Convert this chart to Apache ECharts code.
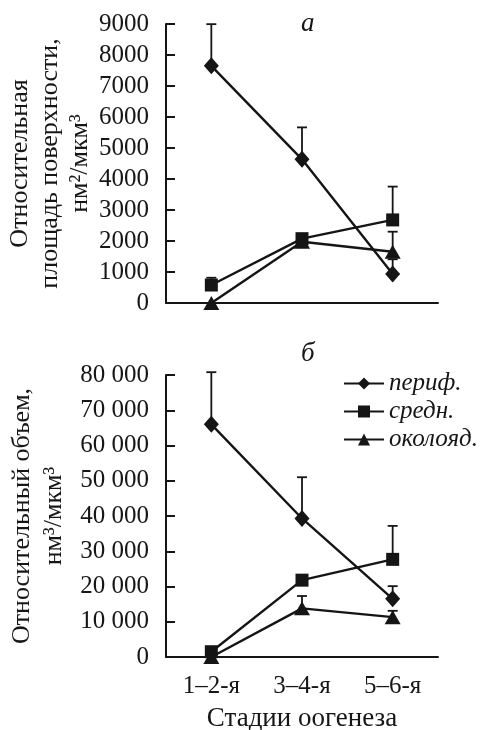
<!doctype html>
<html lang="ru">
<head>
<meta charset="UTF-8">
<title>Стадии оогенеза</title>
<script src="https://cdn.jsdelivr.net/npm/echarts@6/dist/echarts.min.js"></script>
<style>
  html, body { margin: 0; padding: 0; background: #fff; }
  #main { width: 486px; height: 730px; }
</style>
</head>
<body>
<div id="main"></div>
<script>
// стадии
var stages = ['1\u20132-я', '3\u20134-я', '5\u20136-я'];
var seriesNames = ['периф.', 'средн.', 'околояд.'];

// а: площадь поверхности, нм2/мкм3
var areaPerif = [7650, 4635, 935];
var areaSredn = [580, 2075, 2680];
var areaOkol = [0, 1975, 1655];
var areaPerifErr = [1345, 1030, 475];
var areaSrednErr = [235, 0, 1075];
var areaOkolErr = [0, 0, 645];
var areaTicks = [0, 9000, 1000];

// б: объем, нм3/мкм3
var volPerif = [66000, 39300, 16500];
var volSredn = [1500, 21800, 27700];
var volOkol = [0, 13800, 11300];
var volPerifErr = [14800, 11700, 3600];
var volSrednErr = [0, 0, 9500];
var volOkolErr = [0, 3500, 1800];
var volTicks = [0, 80000, 10000];

var ink = '#151515';
var txt = '#161616';
var font = '"Liberation Serif", "DejaVu Serif", serif';
var symbols = ['diamond', 'rect', 'triangle'];
var symbolSizes = [[15, 17], [13, 13], [16, 14]];

var chart = echarts.init(document.getElementById('main'));

function errData(vals, errs) {
    var out = [];
    for (var i = 0; i < vals.length; i++) {
        out.push([i, vals[i], errs[i]]);
    }
    return out;
}

function renderErr(params, api) {
    var e = api.value(2);
    if (!e) return;
    var p0 = api.coord([api.value(0), api.value(1)]);
    var p1 = api.coord([api.value(0), api.value(1) + e]);
    var st = { stroke: ink, lineWidth: 1.8 };
    return {
        type: 'group',
        children: [
            { type: 'line', shape: { x1: p0[0], y1: p0[1], x2: p1[0], y2: p1[1] }, style: st },
            { type: 'line', shape: { x1: p1[0] - 5, y1: p1[1], x2: p1[0] + 5, y2: p1[1] }, style: st }
        ]
    };
}

function lineSeries(k, idx, data) {
    return {
        name: seriesNames[k],
        type: 'line',
        xAxisIndex: idx,
        yAxisIndex: idx,
        data: data,
        symbol: symbols[k],
        symbolSize: symbolSizes[k],
        lineStyle: { color: ink, width: 2.4 },
        itemStyle: { color: ink },
        z: 3
    };
}

function errSeries(idx, vals, errs) {
    return {
        type: 'custom',
        xAxisIndex: idx,
        yAxisIndex: idx,
        renderItem: renderErr,
        data: errData(vals, errs),
        z: 2,
        silent: true
    };
}

function spaced(v) {
    return String(v).replace(/\B(?=(\d{3})+(?!\d))/g, ' ');
}

var axisLineStyle = { color: ink, width: 2 };

function xAx(idx, showLabels) {
    return {
        type: 'category',
        gridIndex: idx,
        data: stages,
        boundaryGap: true,
        axisLine: { lineStyle: axisLineStyle },
        axisTick: { inside: true, length: 9, lineStyle: axisLineStyle },
        axisLabel: {
            show: showLabels, color: txt, fontFamily: font, fontSize: 25, margin: 17
        },
        name: showLabels ? 'Стадии оогенеза' : '',
        nameLocation: 'middle',
        nameGap: 48,
        nameMoveOverlap: false,
        nameTextStyle: { color: txt, fontFamily: font, fontSize: 27 }
    };
}

function yAx(idx, ticks, name, gap, lh, fmt) {
    return {
        type: 'value',
        gridIndex: idx,
        min: ticks[0],
        max: ticks[1],
        interval: ticks[2],
        splitLine: { show: false },
        axisLine: { show: true, lineStyle: axisLineStyle },
        axisTick: { show: true, inside: true, length: 9, lineStyle: axisLineStyle },
        axisLabel: { color: txt, fontFamily: font, fontSize: 25, margin: 17, formatter: fmt },
        name: name,
        nameLocation: 'middle',
        nameRotate: 90,
        nameGap: gap,
        nameMoveOverlap: false,
        nameTextStyle: { color: txt, fontFamily: font, fontSize: 26, lineHeight: lh, align: 'center' }
    };
}

var option = {
    backgroundColor: '#fff',
    animation: false,
    title: [
        { text: 'а', left: 296, top: 5, textStyle: { color: txt, fontFamily: font, fontSize: 27, fontStyle: 'italic', fontWeight: 'normal' } },
        { text: 'б', left: 296, top: 335, textStyle: { color: txt, fontFamily: font, fontSize: 27, fontStyle: 'italic', fontWeight: 'normal' } }
    ],
    legend: {
        data: seriesNames,
        orient: 'vertical',
        left: 338,
        top: 366,
        itemWidth: 40,
        itemHeight: 15,
        itemGap: 3,
        textStyle: { color: txt, fontFamily: font, fontSize: 25, fontStyle: 'italic' }
    },
    grid: [
        { left: 166, top: 24, width: 272, height: 279, outerBoundsMode: 'none' },
        { left: 166, top: 375, width: 272, height: 282, outerBoundsMode: 'none' }
    ],
    xAxis: [xAx(0, false), xAx(1, true)],
    yAxis: [
        yAx(0, areaTicks, 'Относительная\nплощадь поверхности,\nнм²/мкм³', 71, 30, function (v) { return String(v); }),
        yAx(1, volTicks, 'Относительный объем,\nнм³/мкм³', 96, 32, spaced)
    ],
    series: [
        errSeries(0, areaPerif, areaPerifErr),
        errSeries(0, areaSredn, areaSrednErr),
        errSeries(0, areaOkol, areaOkolErr),
        lineSeries(0, 0, areaPerif),
        lineSeries(1, 0, areaSredn),
        lineSeries(2, 0, areaOkol),
        errSeries(1, volPerif, volPerifErr),
        errSeries(1, volSredn, volSrednErr),
        errSeries(1, volOkol, volOkolErr),
        lineSeries(0, 1, volPerif),
        lineSeries(1, 1, volSredn),
        lineSeries(2, 1, volOkol)
    ]
};

chart.setOption(option);
</script>
</body>
</html>
